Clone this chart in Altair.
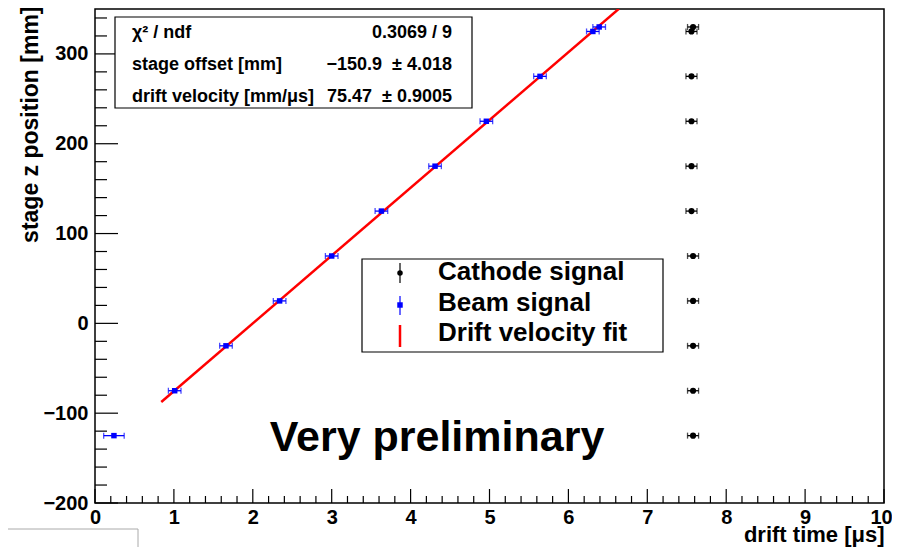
import altair as alt
import pandas as pd

# ---------------- data ----------------
beam_t = [0.24, 1.01, 1.66, 2.34, 3.00, 3.63, 4.31, 4.96, 5.64, 6.31, 6.39]
beam_terr = [0.13, 0.08, 0.08, 0.08, 0.08, 0.08, 0.08, 0.08, 0.08, 0.08, 0.08]
beam_z = [-125, -75, -25, 25, 75, 125, 175, 225, 275, 325, 330]

cath_t = [7.58, 7.58, 7.58, 7.58, 7.58, 7.56, 7.56, 7.56, 7.56, 7.56, 7.58]
cath_terr = [0.07, 0.07, 0.07, 0.07, 0.07, 0.07, 0.07, 0.07, 0.07, 0.07, 0.07]
cath_z = [-125, -75, -25, 25, 75, 125, 175, 225, 275, 325, 330]

fit_offset = -150.9
fit_velocity = 75.47
fit_t_range = [0.84, 6.64]

x_major = [0, 1, 2, 3, 4, 5, 6, 7, 8, 9, 10]
x_minor = [round(i * 0.2, 1) for i in range(51) if i % 5 != 0]
y_major = [-200, -100, 0, 100, 200, 300]
y_minor = [v for v in range(-200, 350, 20) if v % 100 != 0]

stat_labels = ["χ² / ndf", "stage offset [mm]", "drift velocity [mm/μs]"]
stat_values = ["0.3069 / 9", "−150.9 \u00a0± 4.018", "75.47 \u00a0± 0.9005"]
legend_labels = ["Cathode signal", "Beam signal", "Drift velocity fit"]
x_title = "drift time [μs]"
y_title = "stage z position [mm]"
note = "Very preliminary"

# ---------------- tables ----------------
beam = pd.DataFrame({"t": beam_t, "z": beam_z,
                     "lo": [a - b for a, b in zip(beam_t, beam_terr)],
                     "hi": [a + b for a, b in zip(beam_t, beam_terr)]})
cath = pd.DataFrame({"t": cath_t, "z": cath_z,
                     "lo": [a - b for a, b in zip(cath_t, cath_terr)],
                     "hi": [a + b for a, b in zip(cath_t, cath_terr)]})
fit = pd.DataFrame({"t": fit_t_range,
                    "z": [fit_offset + fit_velocity * t for t in fit_t_range]})

FONT = "Liberation Sans"
W, H = 789, 494
xs = alt.Scale(domain=[0, 10], nice=False, zero=False)
ys = alt.Scale(domain=[-200, 350], nice=False, zero=False)

x_axis = alt.Axis(values=x_major, format="d", ticks=False, tickSize=0, domain=False,
                  grid=False, labelFont=FONT, labelFontSize=20, labelFontWeight="bold",
                  labelColor="black", labelPadding=4, labelFlush=False, labelOverlap=False,
                  labelOffset={"condition": {"test": "datum.value == 10", "value": -3}, "value": 0},
                  title=x_title, titleFont=FONT, titleFontSize=22, titleFontWeight="bold",
                  titleColor="black", titleX=W, titleY=38, titleAlign="right",
                  titleBaseline="alphabetic", titleAnchor="end")
y_axis = alt.Axis(values=y_major, format="d", ticks=False, tickSize=0, domain=False,
                  grid=False, labelFont=FONT, labelFontSize=20, labelFontWeight="bold",
                  labelColor="black", labelPadding=7, labelFlush=False, labelOverlap=False,
                  title=y_title, titleFont=FONT, titleFontSize=23, titleFontWeight="bold",
                  titleColor="black", titleAngle=270, titleX=-58, titleY=-3,
                  titleAlign="right", titleBaseline="alphabetic", titleAnchor="end")

# fit line (carries the axes)
fit_line = alt.Chart(fit).mark_line(color="#ff0000", strokeWidth=2.5, clip=True).encode(
    x=alt.X("t:Q", scale=xs, axis=x_axis),
    y=alt.Y("z:Q", scale=ys, axis=y_axis),
)

def points(df, color, shape, size):
    bar = alt.Chart(df).mark_rule(color=color, strokeWidth=1.3).encode(
        x=alt.X("lo:Q", scale=xs), x2="hi:Q", y=alt.Y("z:Q", scale=ys))
    cap_lo = alt.Chart(df).mark_tick(color=color, orient="vertical", size=6, thickness=1.3).encode(
        x=alt.X("lo:Q", scale=xs), y=alt.Y("z:Q", scale=ys))
    cap_hi = alt.Chart(df).mark_tick(color=color, orient="vertical", size=6, thickness=1.3).encode(
        x=alt.X("hi:Q", scale=xs), y=alt.Y("z:Q", scale=ys))
    mk = alt.Chart(df).mark_point(color=color, fill=color, filled=True, shape=shape,
                                  size=size, opacity=1).encode(
        x=alt.X("t:Q", scale=xs), y=alt.Y("z:Q", scale=ys))
    return [bar, cap_lo, cap_hi, mk]

beam_layers = points(beam, "#0000ff", "square", 30)
cath_layers = points(cath, "#000000", "circle", 38)

# inward ticks
xmaj = alt.Chart(pd.DataFrame({"v": x_major})).mark_rule(color="black", strokeWidth=1.2).encode(
    x=alt.X("v:Q", scale=xs), y=alt.value(H), y2=alt.value(H - 14))
xmin = alt.Chart(pd.DataFrame({"v": x_minor})).mark_rule(color="black", strokeWidth=1.2).encode(
    x=alt.X("v:Q", scale=xs), y=alt.value(H), y2=alt.value(H - 7))
ymaj = alt.Chart(pd.DataFrame({"v": y_major})).mark_rule(color="black", strokeWidth=1.2).encode(
    y=alt.Y("v:Q", scale=ys), x=alt.value(0), x2=alt.value(23))
ymin = alt.Chart(pd.DataFrame({"v": y_minor})).mark_rule(color="black", strokeWidth=1.2).encode(
    y=alt.Y("v:Q", scale=ys), x=alt.value(0), x2=alt.value(12))

one = alt.Data(values=[{"a": 0}])

def box(x1, x2, y1, y2, stroke="black", fill="white", sw=1.2):
    return alt.Chart(one).mark_rect(stroke=stroke, fill=fill, strokeWidth=sw).encode(
        x=alt.value(x1), x2=alt.value(x2), y=alt.value(y1), y2=alt.value(y2))

def label(txt, x, y, size, align="left", baseline="middle", weight="bold"):
    return alt.Chart(one).mark_text(text=txt, font=FONT, fontSize=size, fontWeight=weight,
                                    align=align, baseline=baseline, color="black").encode(
        x=alt.value(x), y=alt.value(y))

# stats box
stats = [box(20, 377, 8, 99)]
for i, (lab, val) in enumerate(zip(stat_labels, stat_values)):
    yy = 24 + 32 * i
    stats.append(label(lab, 37, yy, 18))
    stats.append(label(val, 357, yy, 18, align="right"))

# legend box
leg = [box(267, 568, 250, 343)]
leg_y = [263, 294, 324]
for lab, yy in zip(legend_labels, leg_y):
    leg.append(label(lab, 343, yy, 26))
leg.append(alt.Chart(one).mark_rule(color="black", strokeWidth=1.2).encode(
    x=alt.value(305), y=alt.value(254), y2=alt.value(274)))
leg.append(alt.Chart(one).mark_point(shape="circle", filled=True, color="black", size=30,
                                     opacity=1).encode(x=alt.value(305), y=alt.value(264)))
leg.append(alt.Chart(one).mark_rule(color="#0000ff", strokeWidth=1.2).encode(
    x=alt.value(305), y=alt.value(287), y2=alt.value(306)))
leg.append(alt.Chart(one).mark_point(shape="square", filled=True, color="#0000ff", size=30,
                                     opacity=1).encode(x=alt.value(305), y=alt.value(296)))
leg.append(alt.Chart(one).mark_rule(color="#ff0000", strokeWidth=2.5).encode(
    x=alt.value(305), y=alt.value(316), y2=alt.value(338)))

prelim = label(note, 342, 442, 43, align="center", baseline="alphabetic")

corner_box = box(-95, 43, 520, 560, stroke="#aaaaaa", fill="white", sw=1)

chart = alt.layer(
    fit_line, *beam_layers, *cath_layers, xmaj, xmin, ymaj, ymin,
    *stats, *leg, prelim, corner_box,
).properties(
    width=W, height=H,
    autosize=alt.AutoSizeParams(type="none"),
    padding={"left": 87, "top": 1, "right": 8, "bottom": 44},
    background="white",
).configure_view(stroke="black", strokeWidth=1.5)

chart.save("out.html", embed_options={"renderer": "svg", "actions": False})
